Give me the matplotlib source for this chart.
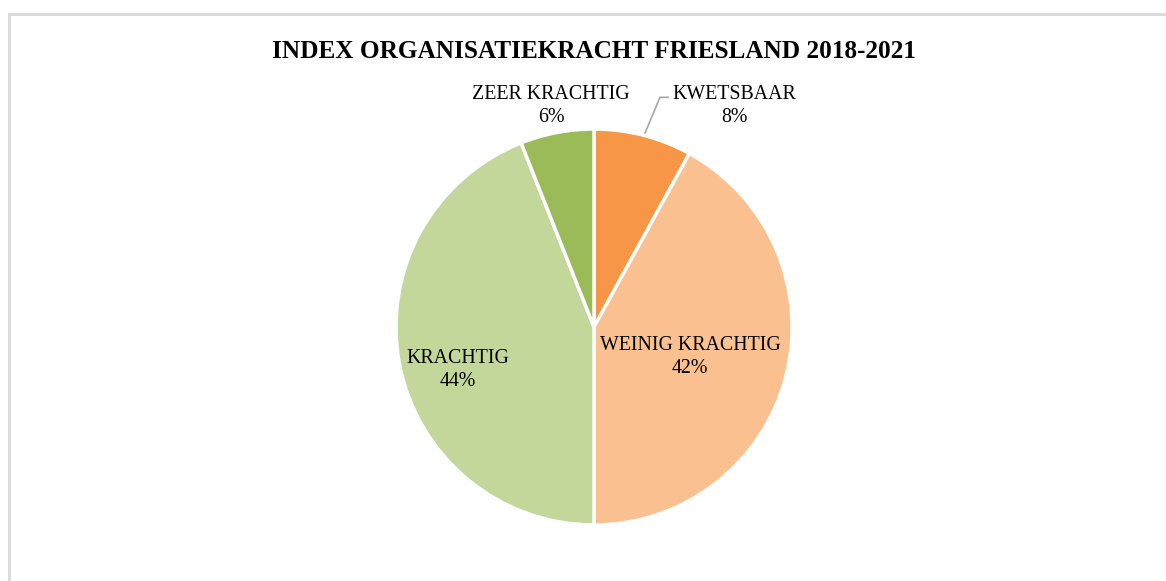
import matplotlib.pyplot as plt
from matplotlib.patches import Rectangle

# data
categories = ["KWETSBAAR", "WEINIG KRACHTIG", "KRACHTIG", "ZEER KRACHTIG"]
percentages = [8, 42, 44, 6]
colors = ["#F79646", "#FAC090", "#C4D79B", "#9BBB59"]
title = "INDEX ORGANISATIEKRACHT FRIESLAND 2018-2021"

plt.rcParams['font.family'] = ['Liberation Serif', 'DejaVu Serif']

W, H = 1166, 581
fig = plt.figure(figsize=(W / 100, H / 100), dpi=100)

# grijze rand van het kader (loopt door buiten beeld)
fig.patches.append(Rectangle((8.5 / W, -0.1), 1.2, (H - 13.5) / H + 0.1,
                             transform=fig.transFigure, fill=False,
                             edgecolor="#D9D9D9", linewidth=2))

cx, cy, r = 594, 327, 198
ax = fig.add_axes([(cx - r) / W, (H - cy - r) / H, 2 * r / W, 2 * r / H])
ax.pie(percentages, colors=colors, startangle=90, counterclock=False,
       wedgeprops=dict(edgecolor="white", linewidth=2.5))
ax.set_xlim(-1, 1)
ax.set_ylim(-1, 1)
ax.set_aspect("equal")
ax.axis("off")

# labels (positie in straal-eenheden)
label_pos = [(0.71, 1.115), (0.485, -0.15), (-0.687, -0.217), (-0.217, 1.115)]
for name, p, pos in zip(categories, percentages, label_pos):
    ax.text(pos[0], pos[1], f"{name}\n{p}%", ha="center", va="center",
            fontsize=14.3, linespacing=1.3, color="#000000", clip_on=False)

# leader line voor kwetsbaar
ax.plot([0.258, 0.333, 0.374], [0.98, 1.16, 1.16], color="#A6A6A6",
        linewidth=1.2, clip_on=False)

fig.text(594 / W, 1 - 51 / H, title, ha="center", va="center",
         fontsize=18.2, fontweight="bold")

fig.savefig("out.png", dpi=100)
